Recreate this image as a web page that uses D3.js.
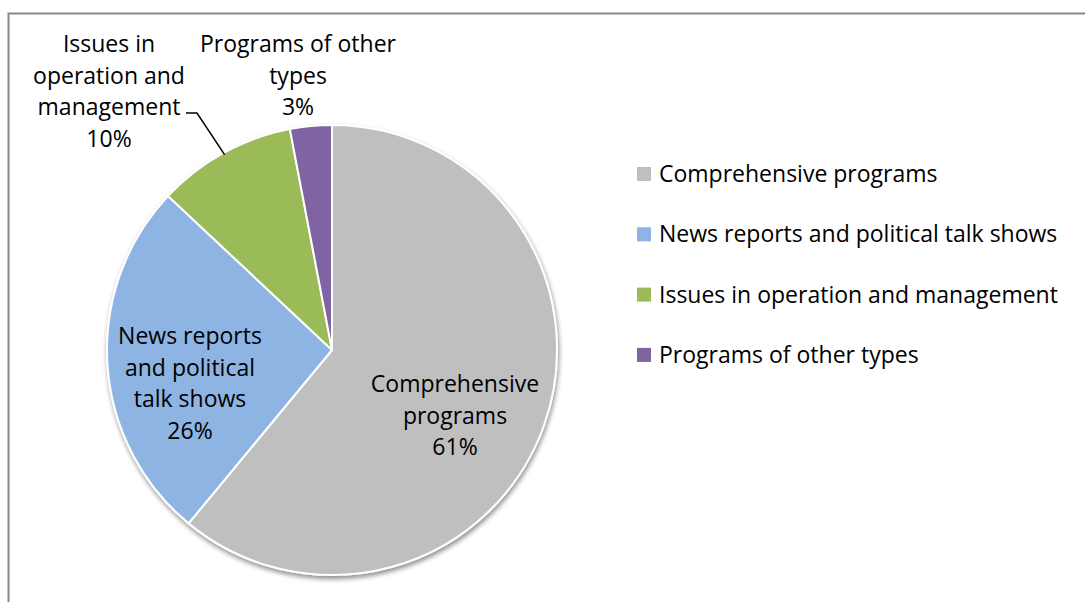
<!DOCTYPE html>
<html>
<head>
<meta charset="utf-8">
<script src="https://cdn.jsdelivr.net/npm/d3@7"></script>
<style>
  html, body { margin: 0; padding: 0; background: #fff; }
  svg { display: block; }
  text { font-family: "Open Sans", Lato, sans-serif; fill: #000; }
</style>
</head>
<body>
<svg id="chart" width="1085" height="602"></svg>
<script>
// Share of complaints by program type
const categories = [
  "Comprehensive programs",
  "News reports and political talk shows",
  "Issues in operation and management",
  "Programs of other types"
];
const values = [61, 26, 10, 3];
const colors = ["#BFBFBF", "#8DB4E2", "#9BBB59", "#8064A2"];
// Wrapped slice labels (lines above the percentage)
const labelLines = [
  ["Comprehensive", "programs"],
  ["News reports", "and political", "talk shows"],
  ["Issues in", "operation and", "management"],
  ["Programs of other", "types"]
];

const W = 1085, H = 602;
const cx = 332, cy = 350, R = 225;
const fontSize = 23, lineH = 31.5;

const svg = d3.select("#chart");

// chart frame
svg.append("rect")
  .attr("x", 8.5).attr("y", 13.5)
  .attr("width", W + 10).attr("height", H + 10)
  .attr("fill", "none").attr("stroke", "#888").attr("stroke-width", 2);

// soft shadow under the pie
const defs = svg.append("defs");
const f = defs.append("filter").attr("id", "shadow")
  .attr("x", "-10%").attr("y", "-10%").attr("width", "120%").attr("height", "120%");
f.append("feGaussianBlur").attr("in", "SourceAlpha").attr("stdDeviation", 2.5).attr("result", "b");
f.append("feOffset").attr("in", "b").attr("dx", 1).attr("dy", 3).attr("result", "o");
f.append("feComponentTransfer").attr("in", "o").attr("result", "s")
  .append("feFuncA").attr("type", "linear").attr("slope", 0.45);
const m = f.append("feMerge");
m.append("feMergeNode").attr("in", "s");
m.append("feMergeNode").attr("in", "SourceGraphic");

const pie = d3.pie().sort(null).value(d => d)(values);
const arc = d3.arc().innerRadius(0).outerRadius(R);
const color = d3.scaleOrdinal().domain(categories).range(colors);

const g = svg.append("g").attr("transform", `translate(${cx},${cy})`);
g.append("g").attr("filter", "url(#shadow)")
  .selectAll("path").data(pie).join("path")
  .attr("d", arc)
  .attr("fill", (d, i) => color(categories[i]))
  .attr("stroke", "#fff").attr("stroke-width", 2).attr("stroke-linejoin", "round");

// label anchor positions (centre x, first baseline y), relative to pie centre
const labelPos = [
  [455 - cx, 392 - cy],
  [190 - cx, 344 - cy],
  [109 - cx, 52 - cy],
  [298 - cx, 52 - cy]
];

pie.forEach((d, i) => {
  const lines = labelLines[i].concat([Math.round(values[i]) + "%"]);
  const t = g.append("text")
    .attr("text-anchor", "middle")
    .attr("font-size", fontSize)
    .attr("x", labelPos[i][0]).attr("y", labelPos[i][1]);
  lines.forEach((ln, k) => {
    t.append("tspan").attr("x", labelPos[i][0]).attr("dy", k === 0 ? 0 : lineH).text(ln);
  });
});

// leader line for the green slice
const mid = (pie[2].startAngle + pie[2].endAngle) / 2;
const edge = [Math.sin(mid) * (R - 2), -Math.cos(mid) * (R - 2)];
g.append("polyline")
  .attr("points", [[186 - cx, 113 - cy], [197 - cx, 113 - cy], edge].map(p => p.join(",")).join(" "))
  .attr("fill", "none").attr("stroke", "#000").attr("stroke-width", 1.5);

// legend
const legend = svg.append("g").attr("transform", "translate(637,174)");
const row = legend.selectAll("g").data(categories).join("g")
  .attr("transform", (d, i) => `translate(0,${i * 60.3})`);
row.append("rect").attr("x", 0).attr("y", -7).attr("width", 14).attr("height", 14)
  .attr("fill", d => color(d));
row.append("text").attr("x", 22).attr("y", 8)
  .attr("font-size", fontSize).text(d => d);
</script>
</body>
</html>
